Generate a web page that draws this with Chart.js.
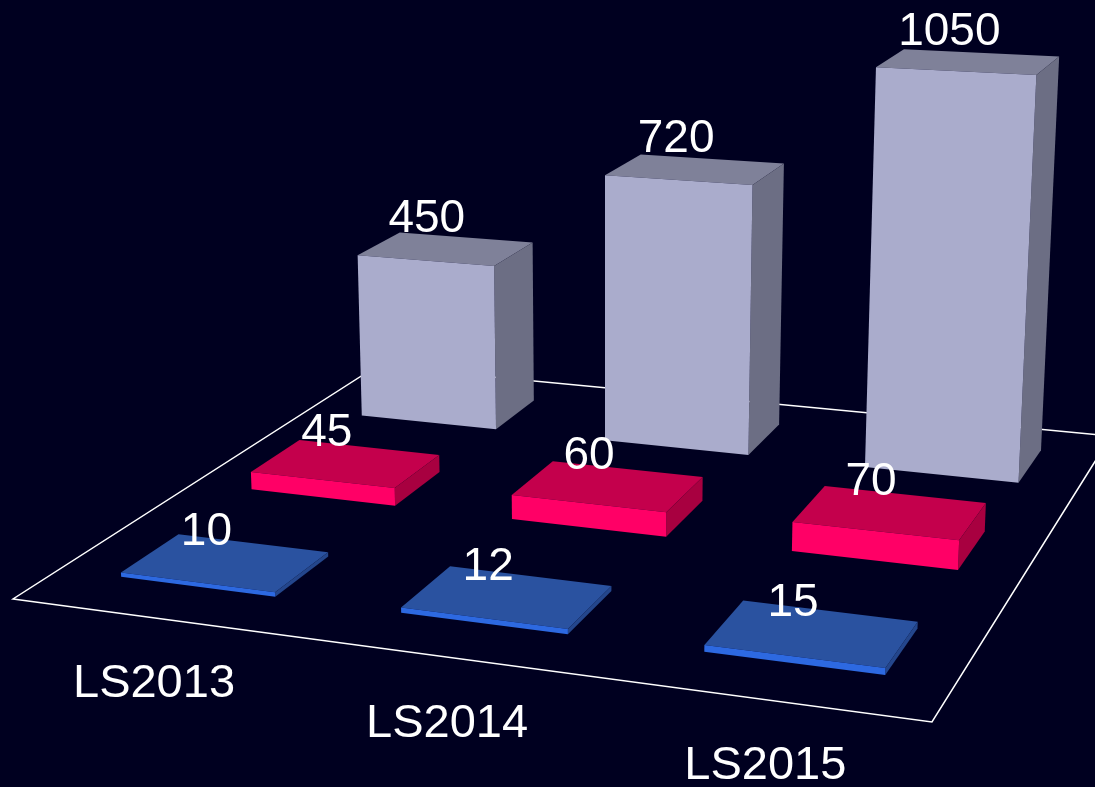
<!DOCTYPE html>
<html>
<head>
<meta charset="utf-8">
<script src="https://cdn.jsdelivr.net/npm/chart.js@4.4.0/dist/chart.umd.min.js"></script>
<style>
  html, body { margin: 0; padding: 0; background: #000020; }
  #wrap { width: 1095px; height: 787px; }
</style>
</head>
<body>
<div id="wrap"><canvas id="chart1"></canvas></div>
<script>
const categories = ['LS2013', 'LS2014', 'LS2015'];
const seriesFront = [10, 12, 15];
const seriesMiddle = [45, 60, 70];
const seriesBack = [450, 720, 1050];
const valueMax = 1830;

// face colours per row: front, top, side
const rowColors = [
  { front: '#2D69E1', top: '#2A52A0', side: '#24468C' },
  { front: '#FF0066', top: '#C4004C', side: '#A80040' },
  { front: '#AAACCC', top: '#7F8199', side: '#6C6E84' }
];

// floor corners as fractions of the chart area: front-left, front-right, back-right, back-left
const floorQuad = [[0.0119, 0.7611], [0.8511, 0.9174], [1.0146, 0.554], [0.3443, 0.465]];
const barFrac = 0.56;    // share of a category slot used by a bar
const rowDepth = 0.14;   // depth of a bar on the floor (0..1)
const lean = 1.06e-4;    // small lean of the vertical edges
const leanCenter = 0.553;

function makeHomography(q) {
  const [x0, y0] = q[0], [x1, y1] = q[1], [x2, y2] = q[2], [x3, y3] = q[3];
  const dx1 = x1 - x2, dx2 = x3 - x2, dx3 = x0 - x1 + x2 - x3;
  const dy1 = y1 - y2, dy2 = y3 - y2, dy3 = y0 - y1 + y2 - y3;
  const den = dx1 * dy2 - dy1 * dx2;
  const g = (dx3 * dy2 - dy3 * dx2) / den;
  const h = (dx1 * dy3 - dy1 * dx3) / den;
  const a = x1 - x0 + g * x1, b = x3 - x0 + h * x3, c = x0;
  const d = y1 - y0 + g * y1, e = y3 - y0 + h * y3, f = y0;
  return function(u, v) {
    const w = g * u + h * v + 1;
    return { x: (a * u + b * v + c) / w, y: (d * u + e * v + f) / w, w: w };
  };
}

function poly(c, pts, color) {
  c.beginPath();
  pts.forEach((p, i) => i ? c.lineTo(p.x, p.y) : c.moveTo(p.x, p.y));
  c.closePath();
  c.fillStyle = color;
  c.fill();
}

function floorOf(chart) {
  const area = chart.chartArea;
  const quad = floorQuad.map(p => [area.left + p[0] * area.width, area.top + p[1] * area.height]);
  return { quad: quad, H: makeHomography(quad) };
}

const bars3d = {
  id: 'bars3d',
  beforeDatasetsDraw(chart) {
    const c = chart.ctx;
    const fl = floorOf(chart);
    c.save();
    c.strokeStyle = '#ffffff';
    c.lineWidth = 1.5;
    c.beginPath();
    fl.quad.forEach((p, i) => i ? c.lineTo(p[0], p[1]) : c.moveTo(p[0], p[1]));
    c.closePath();
    c.stroke();
    c.restore();
  },
  afterDatasetsDraw(chart) {
    const c = chart.ctx;
    const area = chart.chartArea;
    const xs = chart.scales.x;
    const H = floorOf(chart).H;
    const lx = area.left + leanCenter * area.width;
    const labels = [];

    c.save();
    for (let d = chart.data.datasets.length - 1; d >= 0; d--) {
      const meta = chart.getDatasetMeta(d);
      const col = rowColors[d];
      const vc = (d + 0.5) / 3 + 0.007;
      const v0 = vc - rowDepth / 2, v1 = vc + rowDepth / 2;
      meta.data.forEach((el, i) => {
        const raw = el.base - el.y;
        const uc = (xs.getPixelForValue(i) - area.left) / area.width + 0.003;
        const hu = barFrac / categories.length / 2;
        const u0 = uc - hu, u1 = uc + hu;
        const B = (u, v) => H(u, v);
        const T = (u, v) => {
          const p = H(u, v);
          const hp = raw / p.w;
          return { x: p.x + lean * (p.x - lx) * hp, y: p.y - hp };
        };
        poly(c, [T(u0, v0), T(u1, v0), T(u1, v1), T(u0, v1)], col.top);
        poly(c, [B(u1, v0), B(u1, v1), T(u1, v1), T(u1, v0)], col.side);
        poly(c, [B(u0, v0), B(u1, v0), T(u1, v0), T(u0, v0)], col.front);
        const tc = T(uc, vc);
        labels.push({ text: String(chart.data.datasets[d].data[i]), x: tc.x - 19, y: tc.y - 17 });
      });
    }

    c.fillStyle = '#ffffff';
    c.textAlign = 'center';
    c.textBaseline = 'alphabetic';
    c.font = '46px "Liberation Sans", Arial, sans-serif';
    labels.forEach(l => c.fillText(l.text, l.x, l.y));

    c.font = '47px "Liberation Sans", Arial, sans-serif';
    categories.forEach((name, i) => {
      const uc = (xs.getPixelForValue(i) - area.left) / area.width;
      const p = H(uc, 0);
      c.fillText(name, p.x + 3, p.y + 80);
    });
    c.restore();
  }
};

let ctx = document.getElementById('chart1').getContext('2d');
let myChart = new Chart(ctx, {
  type: 'bar',
  data: {
    labels: categories,
    datasets: [
      { label: 'front', data: seriesFront, backgroundColor: 'rgba(0,0,0,0)' },
      { label: 'middle', data: seriesMiddle, backgroundColor: 'rgba(0,0,0,0)' },
      { label: 'back', data: seriesBack, backgroundColor: 'rgba(0,0,0,0)' }
    ]
  },
  options: {
    animation: false,
    responsive: true,
    maintainAspectRatio: false,
    layout: { padding: 0 },
    plugins: { legend: { display: false }, tooltip: { enabled: false } },
    scales: {
      x: { display: false },
      y: { display: false, min: 0, max: valueMax }
    }
  },
  plugins: [bars3d]
});
</script>
</body>
</html>
